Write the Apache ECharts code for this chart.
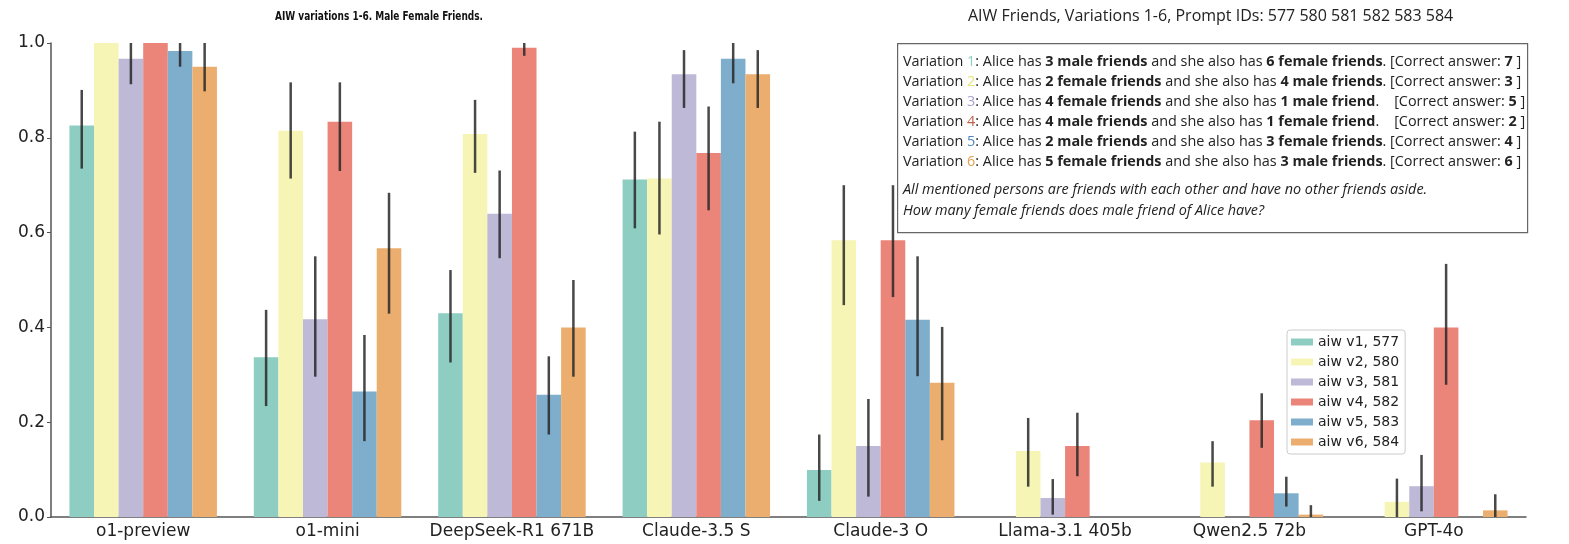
<!DOCTYPE html>
<html>
<head>
<meta charset="utf-8">
<script src="https://cdn.jsdelivr.net/npm/echarts@6/dist/echarts.min.js"></script>
<style>
  html, body { margin: 0; padding: 0; background: #fff; }
  #chart { width: 1569px; height: 544px; }
</style>
</head>
<body>
<div id="chart"></div>
<script>
// categories (models)
var models = ['o1-preview', 'o1-mini', 'DeepSeek-R1 671B', 'Claude-3.5 S', 'Claude-3 O', 'Llama-3.1 405b', 'Qwen2.5 72b', 'GPT-4o'];
var seriesNames = ['aiw v1, 577', 'aiw v2, 580', 'aiw v3, 581', 'aiw v4, 582', 'aiw v5, 583', 'aiw v6, 584'];
var yTicks = [0, 0.2, 0.4, 0.6, 0.8, 1.0];

// correct response rate per variation
var v1 = [0.826, 0.337, 0.430, 0.712, 0.099, 0, 0, 0];
var v2 = [1.0, 0.815, 0.808, 0.714, 0.584, 0.139, 0.115, 0.032];
var v3 = [0.967, 0.417, 0.640, 0.934, 0.150, 0.040, 0, 0.065];
var v4 = [1.0, 0.834, 0.990, 0.768, 0.584, 0.150, 0.204, 0.400];
var v5 = [0.983, 0.265, 0.258, 0.967, 0.416, 0, 0.050, 0];
var v6 = [0.950, 0.567, 0.400, 0.934, 0.283, 0, 0.005, 0.014];

// error bar low / high (null = no bar)
var v1Lo = [0.735, 0.234, 0.326, 0.609, 0.034, null, null, null];
var v1Hi = [0.901, 0.437, 0.521, 0.813, 0.174, null, null, null];
var v2Lo = [null, 0.714, 0.726, 0.596, 0.447, 0.064, 0.064, 0.0];
var v2Hi = [null, 0.917, 0.880, 0.834, 0.700, 0.209, 0.160, 0.081];
var v3Lo = [0.913, 0.296, 0.546, 0.863, 0.043, 0.005, null, 0.012];
var v3Hi = [1.0, 0.550, 0.731, 0.985, 0.249, 0.080, null, 0.131];
var v4Lo = [null, 0.730, 0.973, 0.647, 0.464, 0.086, 0.146, 0.279];
var v4Hi = [null, 0.917, 1.0, 0.866, 0.700, 0.220, 0.261, 0.534];
var v5Lo = [0.950, 0.160, 0.174, 0.915, 0.297, null, 0.022, null];
var v5Hi = [1.0, 0.384, 0.339, 1.0, 0.550, null, 0.085, null];
var v6Lo = [0.898, 0.429, 0.296, 0.863, 0.162, null, 0.0, 0.0];
var v6Hi = [1.0, 0.684, 0.500, 0.985, 0.401, null, 0.025, 0.048];

var colors = ['#8ecdc1', '#f6f5b5', '#bdb9d7', '#ec8579', '#7fadcc', '#ebae6e'];
var numColors = ['#8ecdc1', '#e6e27a', '#a99fd6', '#c0604a', '#4f86b8', '#e0a050'];

var values = [v1, v2, v3, v4, v5, v6];
var los = [v1Lo, v2Lo, v3Lo, v4Lo, v5Lo, v6Lo];
var his = [v1Hi, v2Hi, v3Hi, v4Hi, v5Hi, v6Hi];

var nSeries = 6;
var catGap = 0.2;

var chart = echarts.init(document.getElementById('chart'));

var series = [];
for (var s = 0; s < nSeries; s++) {
  series.push({
    name: seriesNames[s],
    type: 'bar',
    data: values[s],
    barGap: '0%',
    barCategoryGap: '20%',
    itemStyle: { color: colors[s] },
    z: 2
  });
}
// error bars, one custom series per variation
for (var s = 0; s < nSeries; s++) {
  var errData = [];
  for (var i = 0; i < models.length; i++) {
    if (los[s][i] != null) errData.push([i, los[s][i], his[s][i]]);
  }
  (function (idx) {
    series.push({
      type: 'custom',
      name: seriesNames[idx] + ' err',
      data: errData,
      z: 5,
      silent: true,
      renderItem: function (params, api) {
        var lo = api.coord([api.value(0), api.value(1)]);
        var hi = api.coord([api.value(0), api.value(2)]);
        var band = api.size([1, 0])[0];
        var bw = band * (1 - catGap) / nSeries;
        var off = (idx - (nSeries - 1) / 2) * bw;
        return {
          type: 'line',
          shape: { x1: lo[0] + off, y1: lo[1], x2: hi[0] + off, y2: hi[1] },
          style: { stroke: 'rgba(40,40,40,0.85)', lineWidth: 2.5 }
        };
      }
    });
  })(s);
}

// annotation text box
var boxFont = "'Open Sans', 'Noto Sans', sans-serif";
var fs = 14.4;
var rich = {
  n: { fontFamily: boxFont, fontSize: fs, fill: '#222' },
  b: { fontFamily: boxFont, fontSize: fs, fill: '#222', fontWeight: 'bold' }
};
for (var k = 0; k < nSeries; k++) {
  rich['c' + (k + 1)] = { fontFamily: boxFont, fontSize: fs, fill: numColors[k] };
}
var lines = [
  '{n|Variation }{c1|1}{n|: Alice has }{b|3 male friends}{n| and she also has }{b|6 female friends}{n|. [Correct answer: }{b|7}{n| ]}',
  '{n|Variation }{c2|2}{n|: Alice has }{b|2 female friends}{n| and she also has }{b|4 male friends}{n|. [Correct answer: }{b|3}{n| ]}',
  '{n|Variation }{c3|3}{n|: Alice has }{b|4 female friends}{n| and she also has }{b|1 male friend}{n|.    [Correct answer: }{b|5}{n| ]}',
  '{n|Variation }{c4|4}{n|: Alice has }{b|4 male friends}{n| and she also has }{b|1 female friend}{n|.    [Correct answer: }{b|2}{n| ]}',
  '{n|Variation }{c5|5}{n|: Alice has }{b|2 male friends}{n| and she also has }{b|3 female friends}{n|. [Correct answer: }{b|4}{n| ]}',
  '{n|Variation }{c6|6}{n|: Alice has }{b|5 female friends}{n| and she also has }{b|3 male friends}{n|. [Correct answer: }{b|6}{n| ]}'
];
var graphics = [
  {
    type: 'text', x: 275, y: 10, scaleX: 0.72,
    style: { text: 'AIW variations 1-6. Male Female Friends.', fontFamily: 'DejaVu Sans', fontWeight: 'bold', fontSize: 12.5, fill: '#111' }
  },
  {
    type: 'text', left: 968, top: 8,
    style: { text: 'AIW Friends, Variations 1-6, Prompt IDs: 577 580 581 582 583 584', fontFamily: boxFont, fontSize: 16, fill: '#222' }
  },
  {
    type: 'rect', left: 897, top: 43, z: 10,
    shape: { width: 630, height: 189 },
    style: { fill: '#fff', stroke: '#666', lineWidth: 1.2 }
  }
];
for (var j = 0; j < lines.length; j++) {
  graphics.push({
    type: 'text', left: 903, top: 55 + j * 20, z: 11,
    style: { text: lines[j], rich: rich }
  });
}
graphics.push({
  type: 'text', left: 903, top: 183, z: 11,
  style: { text: 'All mentioned persons are friends with each other and have no other friends aside.', fontFamily: boxFont, fontStyle: 'italic', fontSize: fs, fill: '#222' }
});
graphics.push({
  type: 'text', left: 903, top: 204, z: 11,
  style: { text: 'How many female friends does male friend of Alice have?', fontFamily: boxFont, fontStyle: 'italic', fontSize: fs, fill: '#222' }
});

var option = {
  animation: false,
  backgroundColor: '#fff',
  grid: { left: 51, right: 43, top: 43, bottom: 27, containLabel: false, outerBoundsMode: 'none' },
  legend: {
    data: seriesNames,
    orient: 'vertical',
    left: 1287,
    top: 330,
    itemWidth: 22,
    itemHeight: 7,
    itemGap: 6,
    padding: [5, 6, 5, 4],
    borderColor: '#ccc',
    borderWidth: 1,
    borderRadius: 3,
    backgroundColor: 'rgba(255,255,255,0.85)',
    textStyle: { fontFamily: 'DejaVu Sans', fontSize: 14, color: '#222' },
    icon: 'rect'
  },
  xAxis: {
    type: 'category',
    data: models,
    axisLine: { lineStyle: { color: '#555', width: 1.5 } },
    axisTick: { alignWithLabel: true, length: 4, lineStyle: { color: '#555' } },
    axisLabel: { fontFamily: 'DejaVu Sans', fontSize: 17, color: '#222', margin: 6, interval: 0 },
    splitLine: { show: false }
  },
  yAxis: {
    type: 'value',
    min: yTicks[0],
    max: yTicks[yTicks.length - 1],
    interval: 0.2,
    axisLine: { show: true, lineStyle: { color: '#555', width: 1.5 } },
    axisTick: { show: true, length: 4, lineStyle: { color: '#555' } },
    axisLabel: { fontFamily: 'DejaVu Sans', fontSize: 17, color: '#222', margin: 6, formatter: function (v) { return v.toFixed(1); } },
    splitLine: { show: false }
  },
  graphic: graphics,
  series: series
};
chart.setOption(option);
</script>
</body>
</html>
